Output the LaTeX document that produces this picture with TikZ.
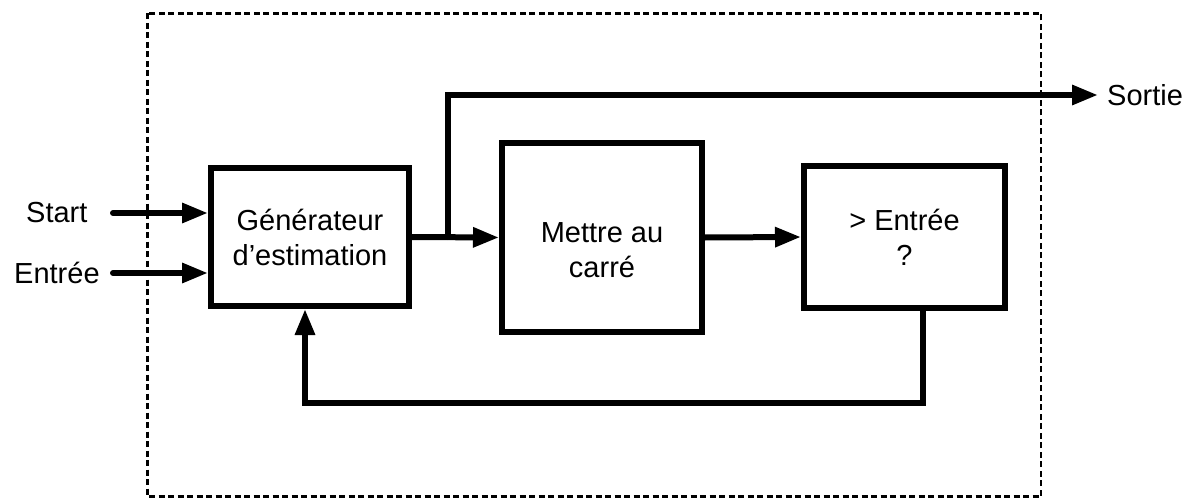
\documentclass[tikz,border=0pt]{standalone}
\usepackage{fontspec}
\setmainfont{Liberation Sans}
\usetikzlibrary{arrows.meta}
\begin{document}
\begin{tikzpicture}[x=1pt,y=-1pt,
  blk/.style={draw,line width=6pt,inner sep=0pt,align=center,font=\fontsize{29}{35}\selectfont},
  txt/.style={inner sep=0pt,align=center,font=\fontsize{29}{35}\selectfont},
  conn/.style={line width=6pt,line cap=round},
  arr/.style={conn,-{Triangle[length=26pt,width=19pt]}},
  frame/.style={draw,line width=2.5pt,dash pattern=on 6pt off 3.5pt}]
\useasboundingbox (0,0) rectangle (1192,500);
\draw[frame] (147.5,13.5) rectangle (1041,496.5);
\node[blk,minimum width=198pt,minimum height=138pt] (b1) at (310,237) {Générateur\\d’estimation};
\node[blk,minimum width=200pt,minimum height=189pt] (b2) at (602,237.5) {};
\node[txt] (t2) at (602,250) {Mettre au\\carré};
\node[blk,minimum width=201pt,minimum height=142pt] (b3) at (904.5,237) {> Entrée\\?};
\node[txt,anchor=west] (start) at (26,213) {Start};
\node[txt,anchor=west] (entree) at (14,273) {Entrée};
\node[txt,anchor=west] (sortie) at (1107,95) {Sortie};
\coordinate (s0) at (113,213);
\coordinate (e0) at (113,273);
\coordinate (br) at (448,237);
\coordinate (out) at (1098,95);
\coordinate (fb) at (923,403);
\coordinate (fl) at (305,403);
\draw[arr] (s0) -- (s0 -| b1.west);
\draw[arr] (e0) -- (e0 -| b1.west);
\draw[arr] (b1.east) -- (b2.west);
\draw[arr] (b2.east) -- (b3.west);
\draw[arr] (br) -- (br |- out) -- (out);
\draw[arr,line cap=butt] (fb |- b3.south) -- (fb) -- (fl) -- (fl |- b1.south);
\end{tikzpicture}
\end{document}
